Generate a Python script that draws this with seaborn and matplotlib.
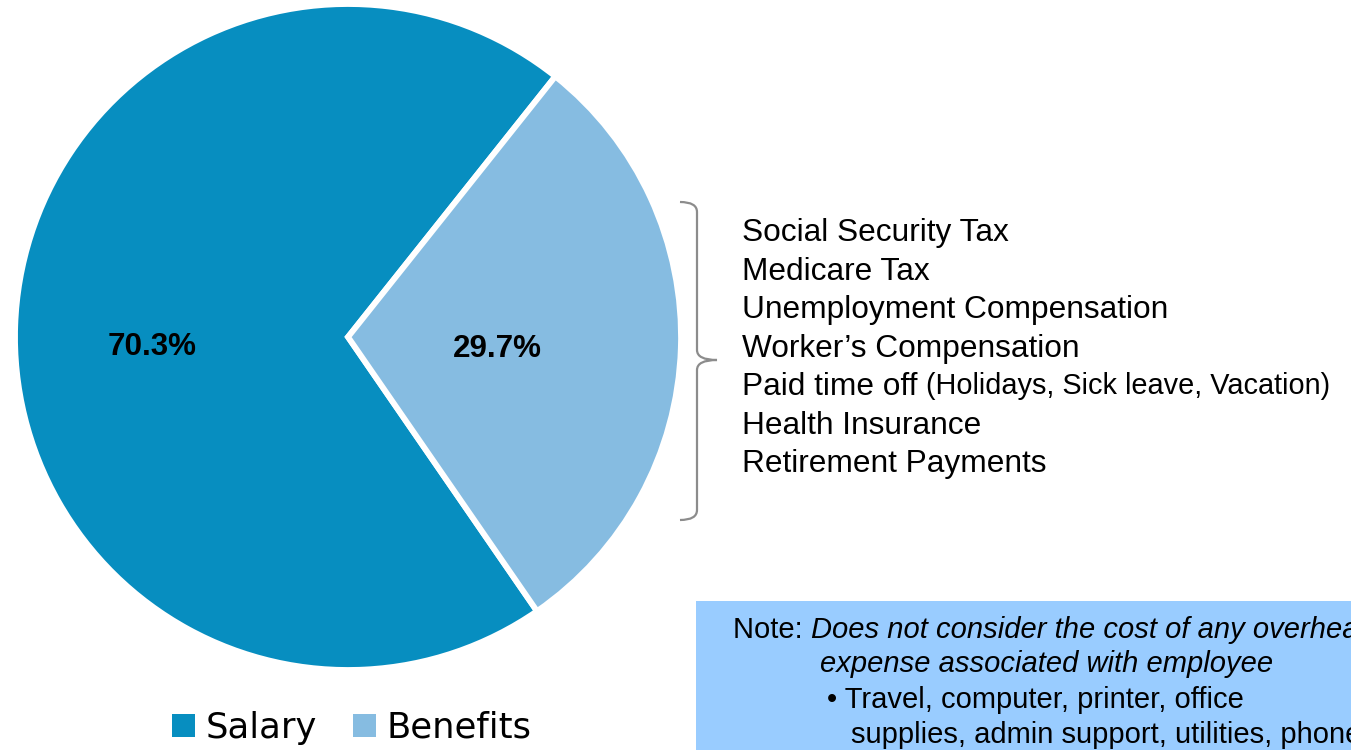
import matplotlib
matplotlib.use("Agg")
import matplotlib.pyplot as plt
import seaborn as sns
import numpy as np
from matplotlib.patches import Rectangle, PathPatch, Patch
from matplotlib.path import Path

# ---- data ----
categories = ["Salary", "Benefits"]
shares = [70.3, 29.7]
benefit_items = [
    "Social Security Tax",
    "Medicare Tax",
    "Unemployment Compensation",
    "Worker\u2019s Compensation",
    "Paid time off",
    "Health Insurance",
    "Retirement Payments",
]
paid_time_detail = "(Holidays, Sick leave, Vacation)"
note_lead = "Note: "
note_italic_lines = ["Does not consider the cost of any overhead",
                     "expense associated with employee"]
note_bullet_lines = ["\u2022 Travel, computer, printer, office",
                     "supplies, admin support, utilities, phone"]

# ---- style ----
sns.set_theme(style="white")
plt.rcParams["font.family"] = ["Liberation Sans", "DejaVu Sans"]
palette = ["#078EC0", "#86BCE1"]

W, H = 1351, 750
fig = plt.figure(figsize=(W / 100, H / 100), dpi=100)
ax = fig.add_axes([0, 0, 1, 1])


def Y(py):
    return H - py


cx, cy, R = 348, Y(337), 333
wedges, _ = ax.pie(shares, colors=palette, startangle=51.5, counterclock=True,
                   explode=[0, 0.03], center=(cx, cy), radius=R,
                   wedgeprops=dict(edgecolor="white", linewidth=4.2))
ax.set_xlim(0, W)
ax.set_ylim(0, H)
ax.set_aspect("auto")
ax.axis("off")

# percentage labels
label_dist = [0.59, 0.45]
label_dy = [-17, -7]
for w, val, d, dy in zip(wedges, shares, label_dist, label_dy):
    mid = np.deg2rad((w.theta1 + w.theta2) / 2)
    x0, y0 = w.center
    ax.text(x0 + d * w.r * np.cos(mid), y0 + d * w.r * np.sin(mid) + dy,
            f"{val:.1f}%", ha="center", va="center", fontsize=22.6,
            fontweight="bold", color="black")

# bracket
bx0, bx1, btip = 680, 697, 717
top, mid_y, bot = 202, 360, 520
verts = [(bx0, Y(top)), (bx1, Y(top)), (bx1, Y(top + 10)),
         (bx1, Y(mid_y - 10)),
         (bx1, Y(mid_y)), (btip, Y(mid_y)),
         (bx1, Y(mid_y)), (bx1, Y(mid_y + 10)),
         (bx1, Y(bot - 10)),
         (bx1, Y(bot)), (bx0, Y(bot))]
codes = [Path.MOVETO, Path.CURVE3, Path.CURVE3,
         Path.LINETO,
         Path.CURVE3, Path.CURVE3,
         Path.CURVE3, Path.CURVE3,
         Path.LINETO,
         Path.CURVE3, Path.CURVE3]
ax.add_patch(PathPatch(Path(verts, codes), fill=False, edgecolor="#8c8c8c", lw=1.6))

# benefit list
y0 = 233
for i, item in enumerate(benefit_items):
    t = ax.text(742, Y(y0 + i * 38.5), item, ha="left", va="center",
                fontsize=22.8, color="black")
    if item == "Paid time off":
        ax.annotate(paid_time_detail, xy=(1, 0.5), xycoords=t,
                    xytext=(9, 1), textcoords="offset pixels",
                    ha="left", va="center", fontsize=20.8, color="black")

# note box (text runs past the right edge, as in the reference)
ax.add_patch(Rectangle((696, 0), W - 696 + 10, Y(601), facecolor="#99CCFF",
                       edgecolor="none"))
fs_note = 21
t_lead = ax.text(733, Y(630), note_lead, ha="left", va="center",
                 fontsize=fs_note, color="black")
ax.annotate(note_italic_lines[0], xy=(1, 0.5), xycoords=t_lead,
            xytext=(0, 0), textcoords="offset pixels", ha="left", va="center",
            fontsize=fs_note, style="italic", color="black")
ax.text(820, Y(664), note_italic_lines[1], ha="left", va="center",
        fontsize=fs_note, style="italic", color="black")
ax.text(827, Y(700), note_bullet_lines[0], ha="left", va="center",
        fontsize=fs_note, color="black")
ax.text(851, Y(735), note_bullet_lines[1], ha="left", va="center",
        fontsize=fs_note, color="black")

# legend
handles = [Patch(facecolor=c, edgecolor="none") for c in palette]
leg = fig.legend(handles, categories, loc="center",
                 bbox_to_anchor=(352 / W, 1 - 728 / H), ncol=2, frameon=False,
                 handlelength=0.65, handleheight=0.65, handletextpad=0.3,
                 columnspacing=1.0, borderaxespad=0, labelcolor="black",
                 prop={"family": "DejaVu Sans", "size": 25.5})

fig.savefig("out.png", dpi=100)
